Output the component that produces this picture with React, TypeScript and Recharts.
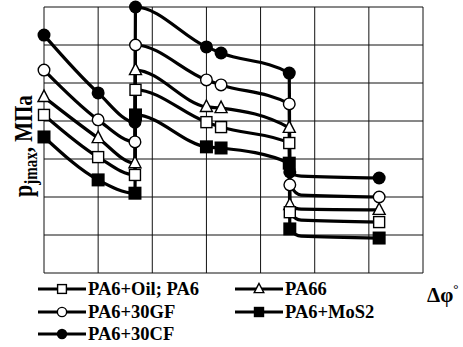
import React from 'react';
import { LineChart, Line, XAxis, YAxis, CartesianGrid } from 'recharts';

// x positions (grid units) of the measured points; the jumps are drawn as near-vertical steps
const xPositions = [0, 1, 1.68, 1.69, 3.0, 3.27, 4.53, 4.54, 4.75, 6.19];
const markerShown = [true, true, true, true, true, true, true, true, false, true];
const pa6Oil = [4.16, 3.05, 2.58, 4.82, 3.97, 3.84, 3.42, 1.6, 1.39, 1.34];
const pa66 = [4.63, 3.55, 2.89, 5.34, 4.37, 4.34, 3.82, 1.79, 1.68, 1.66];
const pa6Gf = [5.34, 4.03, 3.45, 6.0, 5.08, 4.95, 4.45, 2.32, 2.05, 2.0];
const pa6MoS2 = [3.58, 2.45, 2.1, 4.16, 3.32, 3.29, 2.89, 1.16, 0.97, 0.92];
const pa6Cf = [6.26, 4.74, 3.97, 7.0, 5.95, 5.79, 5.26, 2.66, 2.55, 2.5];
const seriesNames = ['PA6+Oil; PA6', 'PA66', 'PA6+30GF', 'PA6+MoS2', 'PA6+30CF'];
const gridTicks = [0, 1, 2, 3, 4, 5, 6, 7];

type Shape = 'square' | 'triangle' | 'circle' | 'filledSquare' | 'filledCircle';

const series: { name: string; values: number[]; shape: Shape }[] = [
  { name: seriesNames[4], values: pa6Cf, shape: 'filledCircle' },
  { name: seriesNames[2], values: pa6Gf, shape: 'circle' },
  { name: seriesNames[1], values: pa66, shape: 'triangle' },
  { name: seriesNames[0], values: pa6Oil, shape: 'square' },
  { name: seriesNames[3], values: pa6MoS2, shape: 'filledSquare' },
];

const FONT = '"Liberation Serif", "Times New Roman", serif';

function Marker({ shape, cx, cy, s = 1 }: { shape: Shape; cx: number; cy: number; s?: number }) {
  switch (shape) {
    case 'square':
      return <rect x={cx - 5.5 * s} y={cy - 5.5 * s} width={11 * s} height={11 * s} fill="#fff" stroke="#000" strokeWidth={1.4} />;
    case 'triangle':
      return (
        <polygon
          points={`${cx},${cy - 7 * s} ${cx - 6 * s},${cy + 4.5 * s} ${cx + 6 * s},${cy + 4.5 * s}`}
          fill="#fff"
          stroke="#000"
          strokeWidth={1.4}
        />
      );
    case 'circle':
      return <circle cx={cx} cy={cy} r={5.8 * s} fill="#fff" stroke="#000" strokeWidth={1.4} />;
    case 'filledSquare':
      return <rect x={cx - 6.5 * s} y={cy - 6.5 * s} width={13 * s} height={13 * s} fill="#000" />;
    case 'filledCircle':
      return <circle cx={cx} cy={cy} r={6.5 * s} fill="#000" />;
  }
  return null;
}

function makeDot(shape: Shape) {
  return (props: any) => {
    const { cx, cy, index } = props;
    if (cx == null || cy == null || !markerShown[index]) return <g key={`${shape}-${index}`} />;
    return (
      <g key={`${shape}-${index}`}>
        <Marker shape={shape} cx={cx} cy={cy} />
      </g>
    );
  };
}

const legendItems: { name: string; shape: Shape; x: number; y: number }[] = [
  { name: seriesNames[0], shape: 'square', x: 38, y: 289 },
  { name: seriesNames[1], shape: 'triangle', x: 235, y: 289 },
  { name: seriesNames[2], shape: 'circle', x: 38, y: 312 },
  { name: seriesNames[3], shape: 'filledSquare', x: 235, y: 312 },
  { name: seriesNames[4], shape: 'filledCircle', x: 38, y: 334 },
];

export default function App() {
  return (
    <div style={{ position: 'absolute', left: 0, top: 0, width: 463, height: 347, background: '#fff' }}>
      <LineChart width={463} height={347} margin={{ top: 7, right: 40, bottom: 74, left: 44 }}>
        <CartesianGrid stroke="#111" strokeWidth={1} horizontalValues={gridTicks} verticalValues={gridTicks} />
        <XAxis type="number" dataKey="x" domain={[0, 7]} ticks={gridTicks} hide allowDuplicatedCategory={false} />
        <YAxis type="number" domain={[0, 7]} ticks={gridTicks} hide />
        {series.map((s) => (
          <Line
            key={s.name}
            name={s.name}
            data={xPositions.map((x, i) => ({ x, y: s.values[i] }))}
            dataKey="y"
            type="monotone"
            stroke="#000"
            strokeWidth={3.2}
            dot={makeDot(s.shape)}
            activeDot={false}
            isAnimationActive={false}
          />
        ))}
      </LineChart>
      <svg width={463} height={347} style={{ position: 'absolute', left: 0, top: 0, pointerEvents: 'none' }}>
        <text transform="translate(32,197) rotate(-90) scale(1,1.2)" fontFamily={FONT} fontWeight="bold" fill="#000">
          <tspan fontSize={22}>p</tspan>
          <tspan fontSize={15} dy={4}>jmax</tspan>
          <tspan fontSize={21} dy={-4}>, МПа</tspan>
        </text>
        <text x={427} y={302} fontFamily={FONT} fontWeight="bold" fontSize={21} fill="#000">
          Δφ
          <tspan fontSize={13} dy={-9}>°</tspan>
        </text>
        {legendItems.map((it) => (
          <g key={it.name}>
            <line x1={it.x} x2={it.x + 48} y1={it.y} y2={it.y} stroke="#000" strokeWidth={3} />
            <Marker shape={it.shape} cx={it.x + 24} cy={it.y} s={0.8} />
            <text x={it.x + 50} y={it.y + 6} fontFamily={FONT} fontWeight="bold" fontSize={18.5} fill="#000">
              {it.name}
            </text>
          </g>
        ))}
      </svg>
    </div>
  );
}
